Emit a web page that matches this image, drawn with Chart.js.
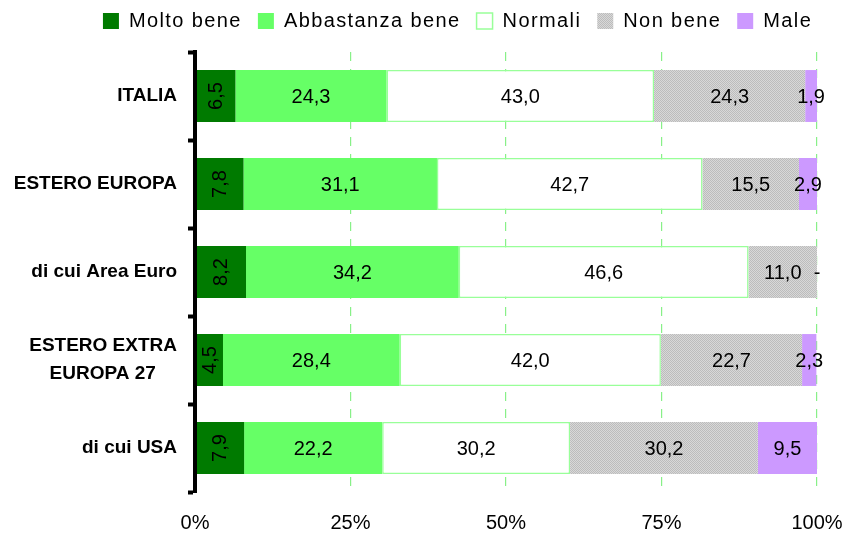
<!DOCTYPE html>
<html><head><meta charset="utf-8">
<script src="https://cdn.jsdelivr.net/npm/chart.js@4.4.1/dist/chart.umd.min.js"></script>
<style>html,body{margin:0;padding:0;background:#fff;}</style>
</head><body>
<canvas id="c" width="846" height="538"></canvas>
<script>
const categories = ['ITALIA', 'ESTERO EUROPA', 'di cui Area Euro', ['ESTERO EXTRA', 'EUROPA 27'], 'di cui USA'];
const seriesNames = ['Molto bene', 'Abbastanza bene', 'Normali', 'Non bene', 'Male'];
const moltoBene = [6.5, 7.8, 8.2, 4.5, 7.9];
const abbastanzaBene = [24.3, 31.1, 34.2, 28.4, 22.2];
const normali = [43.0, 42.7, 46.6, 42.0, 30.2];
const nonBene = [24.3, 15.5, 11.0, 22.7, 30.2];
const male = [1.9, 2.9, 0, 2.3, 9.5];
const xTicks = [0, 25, 50, 75, 100];

const FONT = '"Liberation Sans", Arial, sans-serif';
Chart.defaults.font.family = FONT;
Chart.defaults.color = '#000';

// grey fine-textured pattern for "Non bene"
const pc = document.createElement('canvas'); pc.width = 4; pc.height = 4;
const g = pc.getContext('2d');
g.fillStyle = '#d8d8d8'; g.fillRect(0, 0, 4, 4);
g.fillStyle = '#bcbcbc';
for (let i = 0; i < 4; i++) for (let j = 0; j < 4; j++) if ((i + j) % 2 === 0) g.fillRect(i, j, 1, 1);
const greyPattern = document.getElementById('c').getContext('2d').createPattern(pc, 'repeat');

function padLines(lbl) {
  if (!Array.isArray(lbl)) return lbl;
  const c = document.createElement('canvas').getContext('2d');
  c.font = 'bold 19px ' + FONT;
  const w = lbl.map(s => c.measureText(s).width);
  const maxW = Math.max(...w);
  const sp = c.measureText(' ').width;
  return lbl.map((s, k) => s + ' '.repeat(Math.round((maxW - w[k]) / 2 / sp)));
}

const spacingPlugin = {
  id: 'spacing',
  beforeDraw(chart) { chart.ctx.letterSpacing = '1.4px'; },
  beforeDatasetsDraw(chart) { chart.ctx.letterSpacing = '0px'; }
};

const valueLabels = {
  id: 'valueLabels',
  afterDatasetsDraw(chart) {
    const ctx = chart.ctx;
    ctx.save();
    ctx.letterSpacing = '0px';
    ctx.font = '20px ' + FONT;
    ctx.fillStyle = '#000';
    ctx.textAlign = 'center';
    ctx.textBaseline = 'middle';
    chart.data.datasets.forEach((ds, di) => {
      const meta = chart.getDatasetMeta(di);
      meta.data.forEach((bar, i) => {
        const v = ds.data[i];
        const txt = v === 0 ? '-' : v.toFixed(1).replace('.', ',');
        const cx = (bar.x + bar.base) / 2;
        const cy = bar.y;
        if (di === 0) {
          ctx.save(); ctx.translate(cx + 1, cy); ctx.rotate(-Math.PI / 2);
          ctx.fillText(txt, 0, 0); ctx.restore();
        } else {
          ctx.fillText(txt, cx, cy + 1);
        }
      });
    });
    ctx.restore();
  }
};

new Chart(document.getElementById('c'), {
  type: 'bar',
  data: {
    labels: categories,
    datasets: [
      { label: seriesNames[0], data: moltoBene, backgroundColor: '#007A00', borderWidth: 0 },
      { label: seriesNames[1], data: abbastanzaBene, backgroundColor: '#66FF66', borderWidth: 0 },
      { label: seriesNames[2], data: normali, backgroundColor: '#FFFFFF', borderColor: '#99FF99', borderWidth: 1.5, borderSkipped: false },
      { label: seriesNames[3], data: nonBene, backgroundColor: greyPattern, borderWidth: 0 },
      { label: seriesNames[4], data: male, backgroundColor: '#CC99FF', borderWidth: 0 }
    ].map(d => Object.assign(d, { xAxisID: 'x', yAxisID: 'y' }))
  },
  options: {
    responsive: false,
    animation: false,
    indexAxis: 'y',
    layout: { padding: { top: -5, left: 0, right: -7.5, bottom: 3 } },
    datasets: { bar: { barPercentage: 0.59, categoryPercentage: 1 } },
    plugins: {
      legend: {
        position: 'top',
        labels: { boxWidth: 16, boxHeight: 16, padding: 16, color: '#000', font: { size: 20 } }
      },
      tooltip: { enabled: false }
    },
    scales: {
      x: {
        type: 'linear', position: 'bottom', stacked: true, min: 0, max: 100,
        afterBuildTicks(s) { s.ticks = xTicks.map(v => ({ value: v })); },
        grid: { color: '#88F088', lineWidth: 1.2, drawTicks: true, tickLength: 19, tickColor: 'rgba(0,0,0,0)' },
        border: { display: false, dash: [9, 8] },
        ticks: { z: 1, padding: 0, color: '#000', font: { size: 20 }, callback: v => v + '%' }
      },
      xTop: {
        type: 'linear', position: 'top', display: true,
        grid: { display: false }, border: { display: false }, ticks: { display: false },
        afterFit(s) { s.height = 11; }
      },
      y: {
        type: 'category', position: 'left', stacked: true,
        afterFit(s) { s.width = 195; },
        grid: { drawOnChartArea: false, drawTicks: true, tickLength: 7, tickWidth: 4, tickColor: '#000' },
        border: { display: true, color: '#000', width: 4, z: 1 },
        ticks: {
          z: 1, padding: 11, color: '#000',
          font: { size: 19, weight: 'bold', lineHeight: 1.45 },
          callback(v, i) { return padLines(categories[i]); }
        }
      },
      yRight: {
        type: 'linear', position: 'right', display: true,
        grid: { display: false }, border: { display: false }, ticks: { display: false },
        afterFit(s) { s.width = 36.5; }
      }
    }
  },
  plugins: [spacingPlugin, valueLabels]
});
</script>
</body></html>
